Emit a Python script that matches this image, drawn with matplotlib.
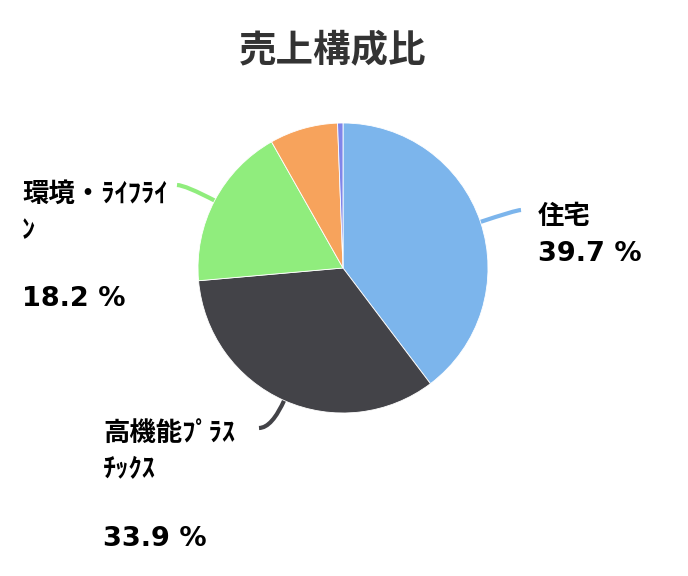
import matplotlib
matplotlib.use("Agg")
import matplotlib.pyplot as plt
from matplotlib.path import Path
from matplotlib.patches import PathPatch
import numpy as np

# ---- data ----
categories = ['住宅', '高機能ﾌﾟﾗｽﾁｯｸｽ', '環境・ﾗｲﾌﾗｲﾝ', 'その他', '調整']
shares = [39.7, 33.9, 18.2, 7.6, 0.6]
colors = ['#7cb5ec', '#434348', '#90ed7d', '#f7a35c', '#8085e9']
label_lines = [['住宅'], ['高機能ﾌﾟﾗｽ', 'ﾁｯｸｽ'], ['環境・ﾗｲﾌﾗｲ', 'ﾝ'], None, None]
title = '売上構成比'

# ---- layout (pixels) ----
W, H = 688, 576
cx, cy, R = 343, 268, 145
# connector end points and label anchors (pixel, from top-left)
conn_end = [(521, 210), (259, 428), (177, 185), None, None]
label_pos = [(538, 217), (103, 433), (22, 194), None, None]
pct_gap = [37, 106, 105, None, None]
line_h = 37

jp = ['Noto Sans CJK JP', 'DejaVu Sans']

fig = plt.figure(figsize=(W / 100, H / 100), dpi=100)
ax = fig.add_axes([(cx - R) / W, (H - cy - R) / H, 2 * R / W, 2 * R / H])
wedges, _ = ax.pie(shares, colors=colors, startangle=90, counterclock=False,
                   radius=1, wedgeprops=dict(edgecolor='white', linewidth=0.6))
ax.set_xlim(-1, 1)
ax.set_ylim(-1, 1)
ax.set_aspect('equal')
ax.axis('off')

ov = fig.add_axes([0, 0, 1, 1], zorder=-1)
ov.set_xlim(0, W)
ov.set_ylim(H, 0)
ov.axis('off')

for i, w in enumerate(wedges):
    if label_lines[i] is None:
        continue
    mid = np.deg2rad((w.theta1 + w.theta2) / 2)
    dx, dy = np.cos(mid), -np.sin(mid)
    ex, ey = cx + R * dx, cy + R * dy
    endx, endy = conn_end[i]
    t = (endy - ey) / dy if abs(dy) > 1e-6 else 20
    ctrl = (ex + dx * t, endy)
    path = Path([(ex - dx * 2, ey - dy * 2), ctrl, (endx, endy)],
                [Path.MOVETO, Path.CURVE3, Path.CURVE3])
    ov.add_patch(PathPatch(path, facecolor='none', edgecolor=colors[i], lw=3,
                           capstyle='butt'))
    lx, ly = label_pos[i]
    for k, line in enumerate(label_lines[i]):
        ov.text(lx, ly + k * line_h, line, fontsize=19, fontweight='bold',
                family=jp, color='black', ha='left', va='center')
    ov.text(lx, ly + pct_gap[i], f'{shares[i]} %', fontsize=19.5,
            fontweight='bold', family='DejaVu Sans', color='black',
            ha='left', va='center')

fig.text(333 / W, 1 - 50 / H, title, fontsize=27, fontweight='bold',
         family=jp, color='#333333', ha='center', va='center')

fig.savefig('out.png', dpi=100, facecolor='white')
